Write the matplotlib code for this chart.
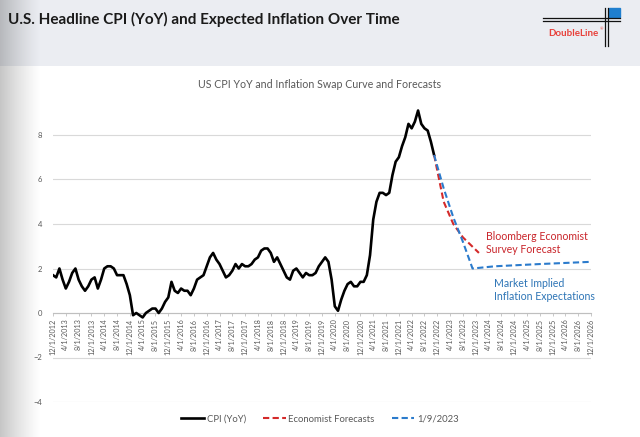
import numpy as np
import pandas as pd
import matplotlib
matplotlib.use('Agg')
import matplotlib.pyplot as plt
from matplotlib.patches import Rectangle

plt.rcParams['font.family'] = ['Lato', 'DejaVu Sans']

# monthly category axis, Dec 2012 .. Dec 2026
months = pd.date_range('2012-12-01', '2026-12-01', freq='MS')
tick_labels = [f"{d.month}/1/{d.year}" for d in months[::4]]

# CPI YoY, Dec 2012 .. Nov 2022
cpi = [1.7,
       1.6, 2.0, 1.5, 1.1, 1.4, 1.8, 2.0, 1.5, 1.2, 1.0, 1.2, 1.5,
       1.6, 1.1, 1.5, 2.0, 2.1, 2.1, 2.0, 1.7, 1.7, 1.7, 1.3, 0.8,
       -0.1, 0.0, -0.1, -0.2, 0.0, 0.1, 0.2, 0.2, 0.0, 0.2, 0.5, 0.7,
       1.4, 1.0, 0.9, 1.1, 1.0, 1.0, 0.8, 1.1, 1.5, 1.6, 1.7, 2.1,
       2.5, 2.7, 2.4, 2.2, 1.9, 1.6, 1.7, 1.9, 2.2, 2.0, 2.2, 2.1,
       2.1, 2.2, 2.4, 2.5, 2.8, 2.9, 2.9, 2.7, 2.3, 2.5, 2.2, 1.9,
       1.6, 1.5, 1.9, 2.0, 1.8, 1.6, 1.8, 1.7, 1.7, 1.8, 2.1, 2.3,
       2.5, 2.3, 1.5, 0.3, 0.1, 0.6, 1.0, 1.3, 1.4, 1.2, 1.2, 1.4,
       1.4, 1.7, 2.6, 4.2, 5.0, 5.4, 5.4, 5.3, 5.4, 6.2, 6.8, 7.0,
       7.5, 7.9, 8.5, 8.3, 8.6, 9.1, 8.5, 8.3, 8.2, 7.7, 7.1]

econ_dates = ['2022-11-01', '2023-02-01', '2023-05-01', '2023-08-01', '2024-01-01']
econ_vals = [7.1, 5.0, 4.0, 3.4, 2.7]

swap_dates = ['2022-11-01', '2023-02-01', '2023-05-01', '2023-08-01', '2023-11-01',
              '2024-06-01', '2025-01-01', '2025-08-01', '2026-04-01', '2026-12-01']
swap_vals = [7.1, 5.6, 4.3, 3.2, 2.0, 2.1, 2.15, 2.2, 2.25, 2.3]

x_cpi = np.arange(len(cpi))
x_econ = months.get_indexer(pd.to_datetime(econ_dates))
x_swap = months.get_indexer(pd.to_datetime(swap_dates))

W, H = 640, 437
fig = plt.figure(figsize=(6.4, 4.37), dpi=100)

# slide background: grey header band + shadow on the left edge
bg = fig.add_axes([0, 0, 1, 1])
img = np.ones((H, W, 3))
img[:66] = np.array([235, 237, 242]) / 255
xx = np.arange(W)
shade = 1 - 0.22 * np.clip(1 - xx / 40, 0, 1) ** 1.2
img = img * shade[None, :, None]
bg.imshow(img, extent=(0, W, H, 0), aspect='auto')
bg.set_xlim(0, W)
bg.set_ylim(H, 0)
bg.axis('off')

bg.text(8, 19, 'U.S. Headline CPI (YoY) and Expected Inflation Over Time',
        fontsize=11, fontweight='bold', color='#1a1a1a', va='center', ha='left')

# DoubleLine logo
for yy in (18.3, 21):
    bg.plot([543, 620], [yy, yy], color='#111111', lw=0.9)
for xv in (605, 607.7):
    bg.plot([xv, xv], [8, 46], color='#111111', lw=0.9)
bg.add_patch(Rectangle((608.5, 8), 11, 9, color='#1f7fcf'))
bg.text(573, 33, 'DoubleLine', fontsize=7, fontweight='bold', color='#e8403a',
        ha='center', va='center')
bg.text(601, 29, '®', fontsize=3, color='#e8403a', ha='center', va='center')

# chart
x0, x1 = 53, 591
ylo, yhi = -4, 9.6
px_per = 22.25
y_bot = 313 + 4 * px_per
y_top = 313 - yhi * px_per
ax = fig.add_axes([x0 / W, (H - y_bot) / H, (x1 - x0) / W, (y_bot - y_top) / H])
ax.patch.set_alpha(0)

ax.plot(x_cpi, cpi, color='black', lw=1.9, label='CPI (YoY)', zorder=3)
ax.plot(x_econ, econ_vals, color='#d42a2a', lw=1.5, ls=(0, (3, 1.6)),
        label='Economist Forecasts', zorder=4)
ax.plot(x_swap, swap_vals, color='#2b7bcc', lw=1.5, ls=(0, (3, 1.6)),
        label='1/9/2023', zorder=4)

for s in ['top', 'right', 'left']:
    ax.spines[s].set_visible(False)
ax.spines['bottom'].set_position(('data', 0))
ax.spines['bottom'].set_color('#bfbfbf')
ax.spines['bottom'].set_linewidth(0.8)

ax.set_xlim(0, len(months) - 1)
ax.set_ylim(ylo, yhi)
ax.set_yticks([-4, -2, 0, 2, 4, 6, 8])
ax.set_xticks(np.arange(0, len(months), 4))
ax.set_xticklabels(tick_labels, rotation=90, fontsize=5.2, color='#595959')
ax.tick_params(axis='y', length=0, labelsize=5.5, labelcolor='#595959', pad=8)
ax.tick_params(axis='x', length=2.5, color='#bfbfbf', width=0.6, pad=1.5)
ax.grid(axis='y', color='#d9d9d9', lw=0.8)
ax.set_axisbelow(True)

fig.text(0.5, 1 - 85 / H, 'US CPI YoY and Inflation Swap Curve and Forecasts',
         fontsize=7.7, color='#595959', ha='center', va='center')

fig.text(486 / W, 1 - 243 / H, 'Bloomberg Economist\nSurvey Forecast',
         fontsize=7.6, color='#c9252b', ha='left', va='center', linespacing=1.25)
fig.text(494 / W, 1 - 290 / H, 'Market Implied\nInflation Expectations',
         fontsize=7.6, color='#2e75b6', ha='left', va='center', linespacing=1.25)

fig.legend(loc='center', bbox_to_anchor=(0.5, 1 - 419 / H), ncol=3, frameon=False,
           fontsize=6.8, labelcolor='#595959', handlelength=2.4, columnspacing=1.8,
           handletextpad=0.3)

fig.savefig('out.png', dpi=100)
